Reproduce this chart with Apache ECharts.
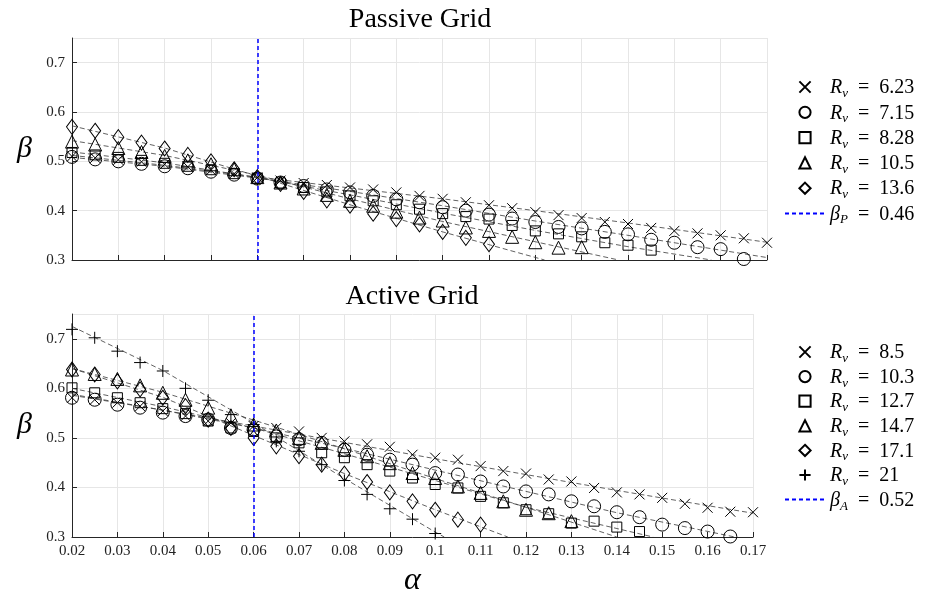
<!DOCTYPE html>
<html>
<head>
<meta charset="utf-8">
<script src="https://cdn.jsdelivr.net/npm/echarts@6/dist/echarts.min.js"></script>
<style>
  html, body { margin: 0; padding: 0; background: #fff; }
  #chart { width: 930px; height: 592px; }
</style>
</head>
<body>
<div id="chart"></div>
<script>
// alpha sample points (every 0.005)
const alphas = [
  0.02, 0.025, 0.03, 0.035, 0.04, 0.045, 0.05, 0.055, 0.06, 0.065,
  0.07, 0.075, 0.08, 0.085, 0.09, 0.095, 0.1, 0.105, 0.11, 0.115,
  0.12, 0.125, 0.13, 0.135, 0.14, 0.145, 0.15, 0.155, 0.16, 0.165, 0.17
];

// Passive grid, beta values (start at alpha = 0.02)
const passiveRv = ['6.23', '7.15', '8.28', '10.5', '13.6'];
const passive623 = [0.510, 0.507, 0.503, 0.499, 0.494, 0.489, 0.482, 0.475, 0.467, 0.461,
  0.456, 0.452, 0.447, 0.443, 0.437, 0.430, 0.424, 0.417, 0.411, 0.405,
  0.397, 0.391, 0.385, 0.377, 0.373, 0.365, 0.359, 0.354, 0.350, 0.344, 0.335];
const passive715 = [0.509, 0.504, 0.500, 0.495, 0.490, 0.486, 0.479, 0.473, 0.465, 0.457,
  0.450, 0.443, 0.437, 0.430, 0.423, 0.417, 0.407, 0.400, 0.392, 0.384,
  0.377, 0.367, 0.364, 0.357, 0.352, 0.341, 0.335, 0.326, 0.322, 0.302];
const passive828 = [0.518, 0.513, 0.508, 0.502, 0.496, 0.490, 0.483, 0.475, 0.466, 0.456,
  0.447, 0.438, 0.430, 0.420, 0.412, 0.403, 0.394, 0.388, 0.383, 0.370,
  0.359, 0.353, 0.347, 0.335, 0.330, 0.320];
const passive105 = [0.540, 0.534, 0.527, 0.519, 0.511, 0.502, 0.494, 0.484, 0.468, 0.457,
  0.445, 0.432, 0.420, 0.410, 0.398, 0.386, 0.380, 0.366, 0.359, 0.347,
  0.336, 0.325, 0.326];
const passive136 = [0.570, 0.562, 0.549, 0.538, 0.526, 0.513, 0.500, 0.484, 0.468, 0.454,
  0.438, 0.421, 0.410, 0.394, 0.383, 0.372, 0.357, 0.345, 0.332];

// Passive grid fitted curves [alpha, beta]
const passiveFit623 = [[0.02, 0.512], [0.04, 0.492], [0.06, 0.468], [0.08, 0.446], [0.10, 0.424], [0.12, 0.400], [0.14, 0.375], [0.17, 0.336]];
const passiveFit715 = [[0.02, 0.508], [0.04, 0.490], [0.06, 0.466], [0.08, 0.439], [0.10, 0.410], [0.12, 0.379], [0.14, 0.350], [0.17, 0.305]];
const passiveFit828 = [[0.02, 0.519], [0.04, 0.497], [0.06, 0.467], [0.08, 0.432], [0.10, 0.395], [0.12, 0.360], [0.14, 0.327], [0.158, 0.30]];
const passiveFit105 = [[0.02, 0.542], [0.04, 0.512], [0.06, 0.472], [0.08, 0.424], [0.10, 0.378], [0.12, 0.337], [0.138, 0.30]];
const passiveFit136 = [[0.02, 0.572], [0.04, 0.527], [0.06, 0.470], [0.08, 0.412], [0.10, 0.357], [0.122, 0.30]];
const passiveAlphaLine = 0.06;

// Active grid, beta values (start at alpha = 0.02)
const activeRv = ['8.5', '10.3', '12.7', '14.7', '17.1', '21'];
const active85 = [0.581, 0.577, 0.571, 0.564, 0.554, 0.544, 0.534, 0.530, 0.524, 0.520,
  0.513, 0.500, 0.493, 0.487, 0.482, 0.466, 0.460, 0.456, 0.443, 0.433,
  0.428, 0.416, 0.412, 0.399, 0.390, 0.386, 0.379, 0.367, 0.359, 0.351, 0.350];
const active103 = [0.581, 0.577, 0.567, 0.561, 0.551, 0.544, 0.537, 0.520, 0.517, 0.503,
  0.497, 0.490, 0.476, 0.466, 0.456, 0.446, 0.429, 0.426, 0.412, 0.402,
  0.392, 0.386, 0.372, 0.362, 0.350, 0.340, 0.325, 0.318, 0.311, 0.301];
const active127 = [0.601, 0.591, 0.581, 0.571, 0.559, 0.549, 0.534, 0.520, 0.513, 0.500,
  0.490, 0.470, 0.460, 0.446, 0.433, 0.419, 0.406, 0.399, 0.382, 0.369,
  0.355, 0.347, 0.328, 0.332, 0.320, 0.311];
const active147 = [0.638, 0.629, 0.619, 0.606, 0.591, 0.577, 0.561, 0.545, 0.527, 0.515,
  0.500, 0.490, 0.476, 0.463, 0.449, 0.429, 0.419, 0.402, 0.389, 0.372,
  0.355, 0.348, 0.332];
const active171 = [0.638, 0.628, 0.614, 0.598, 0.581, 0.564, 0.537, 0.520, 0.500, 0.483,
  0.463, 0.446, 0.428, 0.411, 0.390, 0.372, 0.355, 0.335, 0.325];
const active21 = [0.719, 0.702, 0.675, 0.652, 0.635, 0.600, 0.576, 0.547, 0.527, 0.493,
  0.473, 0.446, 0.414, 0.386, 0.357, 0.336, 0.307];

// Active grid fitted curves [alpha, beta]
const activeFit85 = [[0.02, 0.586], [0.04, 0.556], [0.06, 0.524], [0.08, 0.491], [0.10, 0.458], [0.12, 0.426], [0.14, 0.394], [0.17, 0.348]];
const activeFit103 = [[0.02, 0.588], [0.04, 0.556], [0.06, 0.520], [0.08, 0.479], [0.10, 0.435], [0.12, 0.392], [0.14, 0.349], [0.166, 0.30]];
const activeFit127 = [[0.02, 0.600], [0.04, 0.563], [0.06, 0.520], [0.08, 0.468], [0.10, 0.414], [0.12, 0.360], [0.148, 0.30]];
const activeFit147 = [[0.02, 0.640], [0.04, 0.592], [0.06, 0.536], [0.08, 0.478], [0.10, 0.418], [0.12, 0.360], [0.14, 0.30]];
const activeFit171 = [[0.02, 0.640], [0.04, 0.582], [0.06, 0.505], [0.08, 0.428], [0.10, 0.355], [0.116, 0.30]];
const activeFit21 = [[0.02, 0.725], [0.04, 0.636], [0.06, 0.530], [0.08, 0.418], [0.10, 0.310], [0.102, 0.30]];
const activeAlphaLine = 0.06;

const SERIF = 'Liberation Serif';
const CROSS = 'path://M0,0L10,10M0,10L10,0';
const PLUS = 'path://M5,0L5,10M0,5L10,5';

function markers(name, values, symbol, size, idx) {
  return {
    name: name, type: 'line', xAxisIndex: idx, yAxisIndex: idx,
    data: values.map((v, i) => [alphas[i], v]),
    symbol: symbol, symbolSize: size, showSymbol: true, showAllSymbol: true,
    lineStyle: { width: 0, color: 'transparent' },
    itemStyle: { color: 'transparent', borderColor: '#000', borderWidth: 1 },
    silent: true, z: 4
  };
}

function fitLine(data, idx) {
  return {
    type: 'line', xAxisIndex: idx, yAxisIndex: idx, data: data,
    symbol: 'none', silent: true, z: 2,
    lineStyle: { type: [5, 3], width: 0.8, color: '#3a3a3a' }
  };
}

function refLine(name, alpha, idx) {
  return {
    name: name, type: 'line', xAxisIndex: idx, yAxisIndex: idx, data: [],
    symbol: 'none', silent: true, z: 3,
    lineStyle: { type: [4, 3], width: 1.5, color: '#0000ff' },
    itemStyle: { color: 'transparent', borderWidth: 0 },
    markLine: {
      symbol: 'none', silent: true, label: { show: false },
      lineStyle: { type: [4, 3], width: 1.5, color: '#0000ff' },
      data: [{ xAxis: alpha }]
    }
  };
}

function xAxis(idx, showLabel) {
  return {
    type: 'value', gridIndex: idx, min: 0.02, max: 0.17, interval: 0.01,
    name: showLabel ? 'α' : '', nameLocation: 'middle', nameGap: 28,
    nameTextStyle: { fontFamily: SERIF, fontStyle: 'italic', fontSize: 32, color: '#000' },
    axisLine: { show: true, onZero: false, lineStyle: { color: '#262626' } },
    axisTick: { show: true, inside: true, length: 5, lineStyle: { color: '#262626' } },
    axisLabel: { show: showLabel, fontFamily: SERIF, fontSize: 15, color: '#222', margin: 7 },
    splitLine: { show: true, lineStyle: { color: '#e6e6e6' } }
  };
}

function yAxis(idx) {
  return {
    type: 'value', gridIndex: idx, min: 0.3, max: 0.75, interval: 0.1,
    name: 'β', nameLocation: 'middle', nameGap: 40, nameRotate: 0,
    nameTextStyle: { fontFamily: SERIF, fontStyle: 'italic', fontSize: 30, color: '#000' },
    axisLine: { show: true, onZero: false, lineStyle: { color: '#262626' } },
    axisTick: { show: true, inside: true, length: 5, lineStyle: { color: '#262626' } },
    axisLabel: { showMaxLabel: false, fontFamily: SERIF, fontSize: 15, color: '#222', margin: 7 },
    splitLine: { show: true, lineStyle: { color: '#e6e6e6' } }
  };
}

const legendRich = {
  i: { fontFamily: SERIF, fontStyle: 'italic', fontSize: 20, lineHeight: 18, verticalAlign: 'top', color: '#000' },
  s: { fontFamily: SERIF, fontStyle: 'italic', fontSize: 13, lineHeight: 10, padding: [9, 0, 0, 0], verticalAlign: 'top', color: '#000' },
  t: { fontFamily: SERIF, fontSize: 20, lineHeight: 18, verticalAlign: 'top', color: '#000' }
};

function legendText(name) {
  if (name === 'betaP') return '{i|β}{s|P}{t|\u2002=\u20020.46}';
  if (name === 'betaA') return '{i|β}{s|A}{t|\u2002=\u20020.52}';
  return '{i|R}{s|v}{t|\u2002=\u2002' + name.slice(2) + '}';
}

const passiveNames = passiveRv.map(r => 'P ' + r);
const activeNames = activeRv.map(r => 'A ' + r);

const chart = echarts.init(document.getElementById('chart'));
chart.setOption({
  animation: false,
  backgroundColor: '#fff',
  title: [
    { text: 'Passive Grid', left: 415, top: 1, textAlign: 'center',
      textStyle: { fontFamily: SERIF, fontSize: 28, fontWeight: 'normal', color: '#000' } },
    { text: 'Active Grid', left: 407, top: 278, textAlign: 'center',
      textStyle: { fontFamily: SERIF, fontSize: 28, fontWeight: 'normal', color: '#000' } }
  ],
  grid: [
    { left: 72, top: 38, width: 695, height: 222, outerBoundsMode: 'none', containLabel: false },
    { left: 72, top: 314, width: 681, height: 223, outerBoundsMode: 'none', containLabel: false }
  ],
  xAxis: [xAxis(0, false), xAxis(1, true)],
  yAxis: [yAxis(0), yAxis(1)],
  legend: [
    { data: passiveNames.concat(['betaP']), orient: 'vertical', left: 779, top: 73,
      itemWidth: 40, itemHeight: 14, itemGap: 3.3, selectedMode: false,
      formatter: legendText, textStyle: { rich: legendRich } },
    { data: activeNames.concat(['betaA']), orient: 'vertical', left: 779, top: 338,
      itemWidth: 40, itemHeight: 14, itemGap: 2.6, selectedMode: false,
      formatter: legendText, textStyle: { rich: legendRich } }
  ],
  series: [
    fitLine(passiveFit623, 0), fitLine(passiveFit715, 0), fitLine(passiveFit828, 0),
    fitLine(passiveFit105, 0), fitLine(passiveFit136, 0),
    markers(passiveNames[0], passive623, CROSS, 10, 0),
    markers(passiveNames[1], passive715, 'circle', 13, 0),
    markers(passiveNames[2], passive828, 'rect', 10, 0),
    markers(passiveNames[3], passive105, 'triangle', 13, 0),
    markers(passiveNames[4], passive136, 'diamond', [11, 15], 0),
    refLine('betaP', passiveAlphaLine, 0),

    fitLine(activeFit85, 1), fitLine(activeFit103, 1), fitLine(activeFit127, 1),
    fitLine(activeFit147, 1), fitLine(activeFit171, 1), fitLine(activeFit21, 1),
    markers(activeNames[0], active85, CROSS, 10, 1),
    markers(activeNames[1], active103, 'circle', 13, 1),
    markers(activeNames[2], active127, 'rect', 10, 1),
    markers(activeNames[3], active147, 'triangle', 13, 1),
    markers(activeNames[4], active171, 'diamond', [11, 15], 1),
    markers(activeNames[5], active21, PLUS, 12, 1),
    refLine('betaA', activeAlphaLine, 1)
  ]
});
</script>
</body>
</html>
